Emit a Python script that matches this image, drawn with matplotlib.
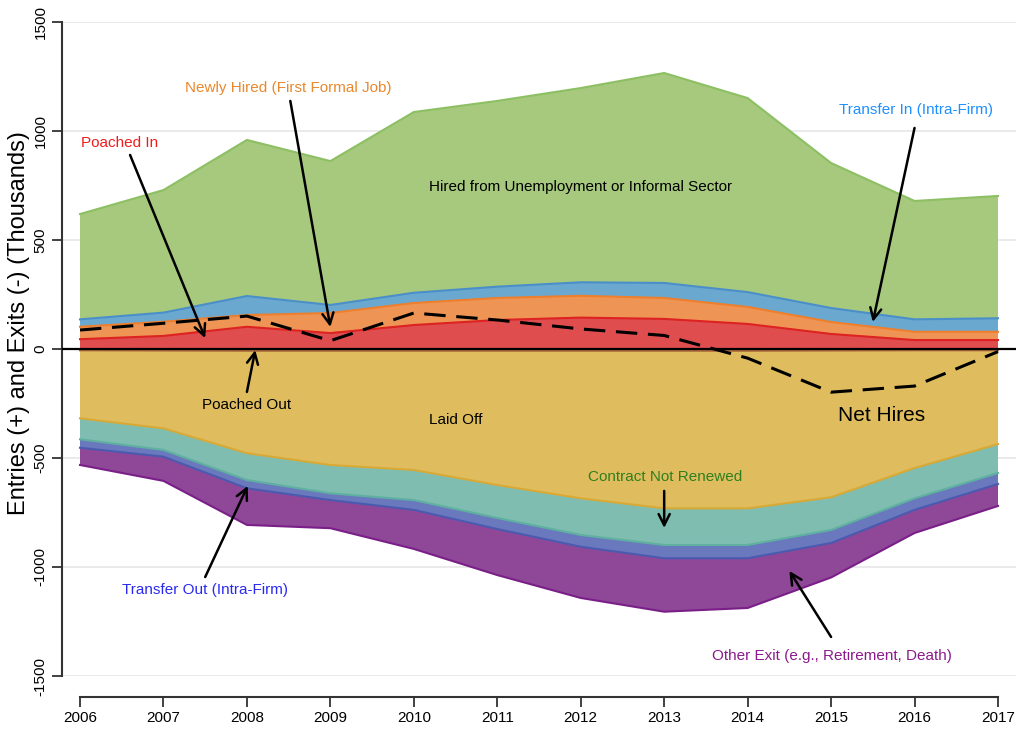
import numpy as np
import matplotlib
matplotlib.use("Agg")
import matplotlib.pyplot as plt

plt.rcParams['font.family'] = ['Liberation Sans', 'DejaVu Sans']

# 数据（单位：千人）
years = np.arange(2006, 2018)

# 进入（正值，自下而上堆叠）
poached_in = [45, 60, 102, 73, 110, 133, 144, 138, 115, 69, 41, 41]
newly_hired = [57, 65, 54, 92, 101, 101, 100, 96, 78, 55, 38, 38]
transfer_in = [34, 42, 87, 37, 47, 52, 62, 69, 68, 64, 57, 62]
hired_unemp = [483, 562, 716, 660, 829, 852, 891, 963, 890, 665, 543, 561]

# 退出（负值，自上而下堆叠）
poached_out = [6, 7, 8, 8, 8, 8, 8, 8, 8, 7, 6, 6]
laid_off = [312, 357, 470, 524, 547, 616, 677, 723, 723, 673, 540, 430]
contract_not_renewed = [96, 99, 123, 130, 138, 151, 168, 168, 168, 150, 139, 133]
transfer_out = [39, 31, 38, 31, 45, 51, 54, 61, 61, 60, 53, 50]
other_exit = [79, 111, 168, 129, 179, 211, 235, 245, 228, 158, 106, 101]

net_hires = [87, 118, 151, 38, 165, 133, 92, 62, -42, -198, -170, -12]

entries = [poached_in, newly_hired, transfer_in, hired_unemp]
entry_fill = ['#e04d4f', '#ee9555', '#6aa8d0', '#a6c97e']
entry_edge = ['#dd2222', '#ee7f2d', '#4b8fc8', '#8dbf63']

exits = [poached_out, laid_off, contract_not_renewed, transfer_out, other_exit]
exit_fill = ['#b0703c', '#dfbd5e', '#7fbdb1', '#6a78bd', '#8f4898']
exit_edge = ['#a8673a', '#d9a936', '#5fb0a0', '#4a5aaf', '#7a1e88']

fig = plt.figure(figsize=(10.16, 7.32), dpi=100)
ax = fig.add_axes([62 / 1016, 56 / 732, 954 / 1016, 654 / 732])

# 网格线
for g in range(-1500, 1501, 500):
    ax.axhline(g, color='#e6e6e6', lw=1.2, zorder=0)

# 正值堆叠
base = np.zeros(len(years))
for vals, fc, ec in zip(entries, entry_fill, entry_edge):
    top = base + np.array(vals)
    ax.fill_between(years, base, top, facecolor=fc, edgecolor='none', zorder=2)
    ax.plot(years, top, color=ec, lw=1.5, zorder=3)
    base = top

# 负值堆叠
base = np.zeros(len(years))
for vals, fc, ec in zip(exits, exit_fill, exit_edge):
    bot = base - np.array(vals)
    ax.fill_between(years, bot, base, facecolor=fc, edgecolor='none', zorder=2)
    ax.plot(years, bot, color=ec, lw=1.5, zorder=3)
    base = bot

ax.axhline(0, color='black', lw=1.6, zorder=4)
ax.plot(years, net_hires, color='black', lw=2.2, linestyle=(0, (7, 3.5)), zorder=5)

ax.set_xlim(2006 - 18 / 83.45, 2017 + 18 / 83.45)
ax.set_ylim(-1500, 1500)

for s in ['top', 'right']:
    ax.spines[s].set_visible(False)
ax.spines['left'].set_bounds(-1500, 1500)
ax.spines['left'].set_color('#333333')
ax.spines['left'].set_linewidth(1.5)
ax.spines['bottom'].set_position(('outward', 15))
ax.spines['bottom'].set_bounds(2006, 2017)
ax.spines['bottom'].set_color('#333333')
ax.spines['bottom'].set_linewidth(1.5)

ax.set_xticks(years)
ax.set_xticklabels([str(y) for y in years], fontsize=11)
ax.set_yticks(range(-1500, 1501, 500))
ax.set_yticklabels([str(v) for v in range(-1500, 1501, 500)], fontsize=11,
                   rotation=90, va='center')
ax.tick_params(axis='both', length=7, width=1.3, color='#333333')
ax.set_ylabel('Entries (+) and Exits (-) (Thousands)', fontsize=17)
ax.yaxis.set_label_coords(-0.034, 0.539)

arrow = dict(arrowstyle='->', lw=1.8, color='black', mutation_scale=20,
             shrinkA=0, shrinkB=0)

# 标注
ax.text(2012.0, 743, 'Hired from Unemployment or Informal Sector', fontsize=11,
        ha='center', va='center', zorder=6)
ax.text(2010.5, -326, 'Laid Off', fontsize=11, ha='center', va='center', zorder=6)
ax.text(2015.6, -307, 'Net Hires', fontsize=15, ha='center', va='center', zorder=6)

ax.text(2006.48, 945, 'Poached In', fontsize=11, color='#f01c1c', ha='center', va='center')
ax.annotate('', xy=(2007.5, 50), xytext=(2006.6, 890), arrowprops=arrow, zorder=6)

ax.text(2008.49, 1197, 'Newly Hired (First Formal Job)', fontsize=11, color='#e8892e',
        ha='center', va='center')
ax.annotate('', xy=(2009.0, 101), xytext=(2008.52, 1138), arrowprops=arrow, zorder=6)

ax.text(2016.02, 1096, 'Transfer In (Intra-Firm)', fontsize=11, color='#1e90ff',
        ha='center', va='center')
ax.annotate('', xy=(2015.5, 124), xytext=(2016.0, 1014), arrowprops=arrow, zorder=6)

ax.text(2008.0, -257, 'Poached Out', fontsize=11, ha='center', va='center', zorder=6)
ax.annotate('', xy=(2008.1, -5), xytext=(2008.0, -197), arrowprops=arrow, zorder=6)

ax.text(2013.01, -587, 'Contract Not Renewed', fontsize=11, color='#2f7f1f',
        ha='center', va='center', zorder=6)
ax.annotate('', xy=(2013.0, -821), xytext=(2013.0, -651), arrowprops=arrow, zorder=6)

ax.text(2007.5, -1105, 'Transfer Out (Intra-Firm)', fontsize=11, color='#2a2aee',
        ha='center', va='center')
ax.annotate('', xy=(2008.01, -628), xytext=(2007.5, -1046), arrowprops=arrow, zorder=6)

ax.text(2015.01, -1408, 'Other Exit (e.g., Retirement, Death)', fontsize=11,
        color='#8b1a8b', ha='center', va='center')
ax.annotate('', xy=(2014.5, -1018), xytext=(2015.0, -1321), arrowprops=arrow, zorder=6)

fig.savefig('out.png', dpi=100)
